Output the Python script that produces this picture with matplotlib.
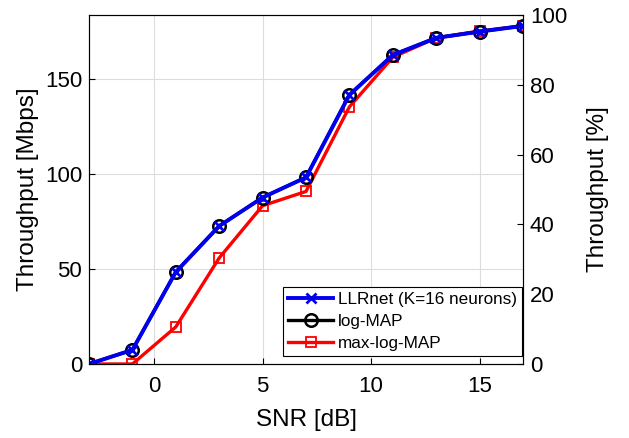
import matplotlib
matplotlib.use('Agg')
import matplotlib.pyplot as plt

plt.rcParams['font.family'] = ['Liberation Sans', 'DejaVu Sans']

# data
snr = [-3, -1, 1, 3, 5, 7, 9, 11, 13, 15, 17]
llrnet = [0, 7.4, 48.4, 72.6, 87.6, 98.2, 141.6, 162.6, 171.6, 174.9, 177.9]
log_map = [0, 7.4, 48.4, 72.6, 87.6, 98.2, 141.6, 162.6, 171.6, 174.9, 177.9]
max_log_map = [0, 0, 19.5, 55.8, 83.3, 90.8, 135.3, 161.4, 171.6, 175.2, 178.0]
max_tp = 183.7  # Mbps that corresponds to 100 %

fig = plt.figure(figsize=(6.29, 4.38), dpi=100)
ax = fig.add_axes([0.1415, 0.169, 0.69, 0.797])

ax.plot(snr, max_log_map, color='red', lw=2.4, marker='s', ms=7, mfc='none',
        mew=1.3, label='max-log-MAP', zorder=3)
ax.plot(snr, log_map, color='black', lw=2.4, marker='o', ms=9, mfc='none',
        mew=1.8, label='log-MAP', zorder=4)
ax.plot(snr, llrnet, color='#0000ee', lw=2.8, marker='x', ms=7, mew=2,
        label='LLRnet (K=16 neurons)', zorder=5)

ax.set_xlim(-3, 17)
ax.set_ylim(0, max_tp)
ax.set_xticks([0, 5, 10, 15])
ax.set_yticks([0, 50, 100, 150])
ax.grid(True, color='#dddddd', lw=0.8)
ax.set_axisbelow(True)
ax.tick_params(direction='in', labelsize=16, length=4, top=False, pad=5)
ax.tick_params(axis='x', pad=9)
ax.set_xlabel('SNR [dB]', fontsize=17.5, labelpad=8)
ax.set_ylabel('Throughput [Mbps]', fontsize=17.5, labelpad=4)
for s in ax.spines.values():
    s.set_color('#333333')

ax2 = ax.twinx()
ax2.set_ylim(0, 100)
ax2.set_yticks([0, 20, 40, 60, 80, 100])
ax2.tick_params(direction='in', labelsize=16, length=4, pad=5)
ax2.set_ylabel('Throughput [%]', fontsize=17.5, labelpad=14)

h, l = ax.get_legend_handles_labels()
order = [2, 1, 0]
leg = ax2.legend([h[i] for i in order], [l[i] for i in order], loc='lower right',
                 bbox_to_anchor=(0.998, 0.022), fontsize=12.3, fancybox=False,
                 edgecolor='black', framealpha=1, borderaxespad=0,
                 handlelength=2.6, handletextpad=0.3, labelspacing=0.42,
                 borderpad=0.3)
leg.get_frame().set_linewidth(0.8)

fig.savefig('out.png', dpi=100)
